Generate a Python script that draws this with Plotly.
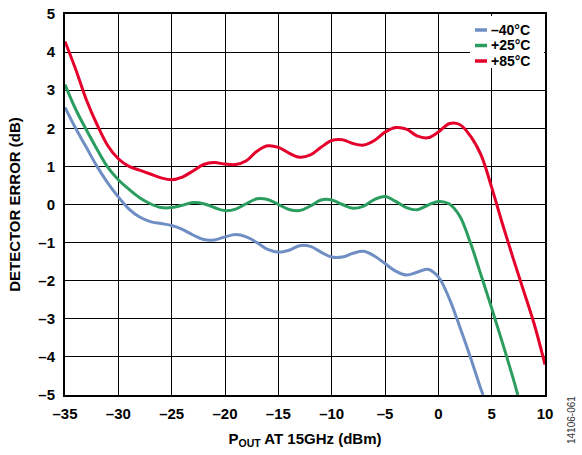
import plotly.graph_objects as go

x_blue = [-35, -34, -33, -32, -31, -30, -29, -28, -27, -26, -25, -24, -23, -22, -21, -20, -19, -18, -17, -16,
          -15, -14, -13, -12, -11, -10, -9, -8, -7, -6, -5, -4, -3, -2, -1, 0, 1, 2, 3, 4, 4.2]
y_blue = [2.55, 2.0, 1.5, 1.0, 0.57, 0.2, -0.12, -0.33, -0.45, -0.5, -0.55, -0.65, -0.8, -0.92, -0.93, -0.85,
          -0.79, -0.85, -1.0, -1.18, -1.25, -1.2, -1.08, -1.1, -1.25, -1.38, -1.38, -1.28, -1.23, -1.35, -1.55,
          -1.75, -1.85, -1.78, -1.7, -1.9, -2.45, -3.2, -4.0, -4.85, -5.0]

x_green = [-35, -34, -33, -32, -31, -30, -29, -28, -27, -26, -25, -24, -23, -22, -21, -20, -19, -18, -17, -16,
           -15, -14, -13, -12, -11, -10, -9, -8, -7, -6, -5, -4, -3, -2, -1, 0, 1, 2, 3, 4, 5, 6, 7, 7.45]
y_green = [3.15, 2.5, 1.96, 1.45, 0.98, 0.65, 0.4, 0.18, 0.02, -0.08, -0.08, -0.02, 0.05, 0.02, -0.08, -0.16,
           -0.12, 0.02, 0.15, 0.13, 0.0, -0.13, -0.16, -0.04, 0.12, 0.12, 0.0, -0.1, -0.04, 0.13, 0.21, 0.08,
           -0.08, -0.14, -0.02, 0.08, 0.02, -0.3, -1.0, -1.85, -2.72, -3.62, -4.55, -5.0]

x_red = [-35, -34, -33, -32, -31, -30, -29, -28, -27, -26, -25, -24, -23, -22, -21, -20, -19, -18, -17, -16,
         -15, -14, -13, -12, -11, -10, -9, -8, -7, -6, -5, -4, -3, -2, -1, 0, 1, 2, 3, 4, 5, 6, 7, 8, 9, 10]
y_red = [4.28, 3.55, 2.75, 2.1, 1.55, 1.2, 1.0, 0.9, 0.8, 0.7, 0.65, 0.72, 0.88, 1.05, 1.1, 1.06, 1.05, 1.15,
         1.4, 1.54, 1.5, 1.35, 1.24, 1.3, 1.5, 1.68, 1.7, 1.6, 1.56, 1.68, 1.9, 2.02, 1.98, 1.8, 1.75, 1.9,
         2.12, 2.1, 1.8, 1.3, 0.45, -0.5, -1.4, -2.27, -3.15, -4.2]

names = ["\u201340\u00b0C", "+25\u00b0C", "+85\u00b0C"]
colors = ["#6F8FC4", "#2A9D5F", "#E4002B"]

x_ticks = [-35, -30, -25, -20, -15, -10, -5, 0, 5, 10]
x_ticktext = ["\u201335", "\u201330", "\u201325", "\u201320", "\u201315", "\u201310", "\u20135", "0", "5", "10"]
y_ticks = [5, 4, 3, 2, 1, 0, -1, -2, -3, -4, -5]
y_ticktext = ["5", "4", "3", "2", "1", "0", "\u20131", "\u20132", "\u20133", "\u20134", "\u20135"]

FONT = "Liberation Sans"
W, H = 582, 455
ML, MR, MT, MB = 65, 37, 14, 60
PW, PH = W - ML - MR, H - MT - MB


def px_x(p):
    # screen pixel -> paper coordinate
    return (p - ML) / PW


def px_y(p):
    return (H - MB - p) / PH


fig = go.Figure()
for xs, ys, nm, c in zip([x_blue, x_green, x_red], [y_blue, y_green, y_red], names, colors):
    fig.add_trace(go.Scatter(x=xs, y=ys, mode="lines", name=nm, showlegend=False,
                             line=dict(color=c, width=3, shape="spline", smoothing=1.0)))

fig.update_layout(
    width=W, height=H,
    margin=dict(l=ML, r=MR, t=MT, b=MB),
    paper_bgcolor="white", plot_bgcolor="white",
    font=dict(family=FONT, size=15, color="black"),
    showlegend=False,
)
fig.update_xaxes(range=[-35, 10], tickvals=x_ticks, ticktext=x_ticktext, automargin=False,
                 showgrid=True, gridcolor="black", gridwidth=1,
                 showline=True, linecolor="black", linewidth=2, mirror=True,
                 zeroline=False, ticks="outside", ticklen=4, tickcolor="white",
                 tickfont=dict(family=FONT, size=15, weight="bold"),
                 title=dict(text="P<sub>OUT</sub> AT 15GHz (dBm)", standoff=12,
                            font=dict(family=FONT, size=15, weight="bold")))
fig.update_yaxes(range=[-5, 5], tickvals=y_ticks, ticktext=y_ticktext, automargin=False,
                 showgrid=True, gridcolor="black", gridwidth=1,
                 showline=True, linecolor="black", linewidth=2, mirror=True,
                 zeroline=False, ticks="outside", ticklen=5, tickcolor="white",
                 tickfont=dict(family=FONT, size=15, weight="bold"),
                 title=dict(text="DETECTOR ERROR (dB)", standoff=14,
                            font=dict(family=FONT, size=15, weight="bold")))

# legend box (manual, compact like the reference)
fig.add_shape(type="rect", xref="paper", yref="paper", layer="above",
              x0=px_x(470), x1=px_x(544), y0=px_y(68), y1=px_y(16),
              fillcolor="white", line=dict(width=0))
row_y = [30, 45.5, 61]
for nm, c, ry in zip(names, colors, row_y):
    fig.add_shape(type="line", xref="paper", yref="paper", layer="above",
                  x0=px_x(475), x1=px_x(487), y0=px_y(ry), y1=px_y(ry),
                  line=dict(color=c, width=3.5))
    fig.add_annotation(text="<b>" + nm + "</b>", xref="paper", yref="paper",
                       x=px_x(489), y=px_y(ry), xanchor="left", yanchor="middle",
                       showarrow=False, font=dict(family=FONT, size=14, color="black"))

fig.add_annotation(text="14106-061", xref="paper", yref="paper",
                   x=px_x(571), y=px_y(420), xanchor="center", yanchor="middle", textangle=-90,
                   showarrow=False, font=dict(family=FONT, size=10, color="#333333"))

fig.write_html("out.html", config={"displayModeBar": False},
               post_script="document.body.style.margin='0px';")
